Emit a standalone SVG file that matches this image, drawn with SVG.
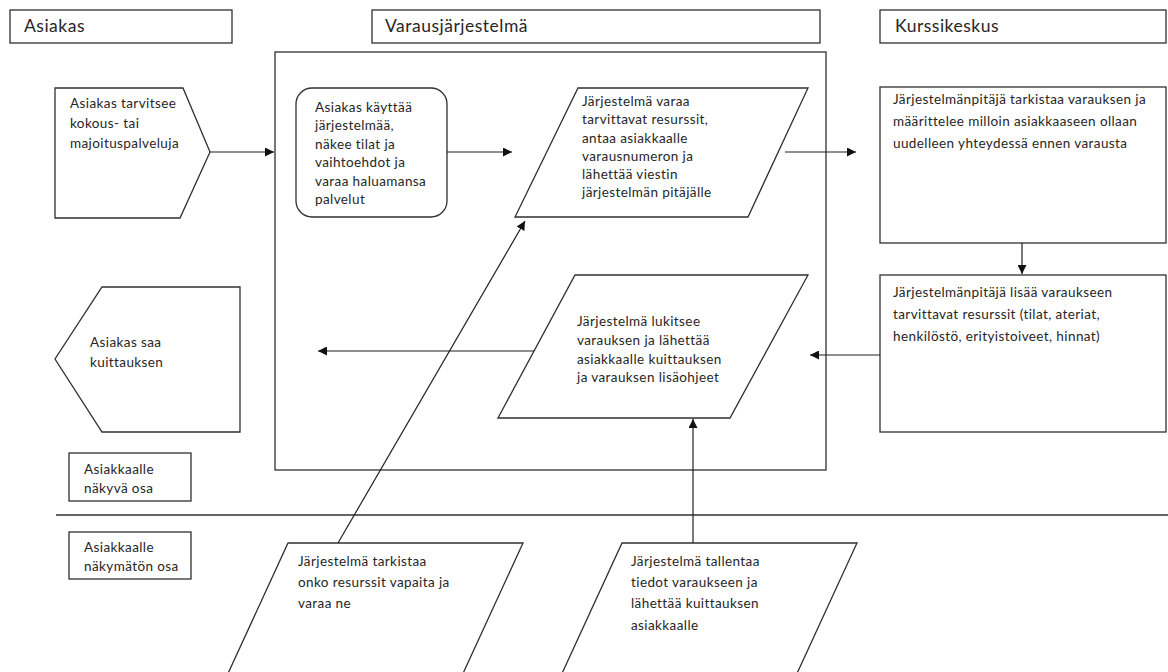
<svg xmlns="http://www.w3.org/2000/svg" width="1168" height="672" viewBox="0 0 1168 672">
  <style>
    .shape { fill: #ffffff; stroke: #303030; stroke-width: 1.3; }
    .frame { fill: none; stroke: #303030; stroke-width: 1.3; }
    .conn { fill: none; stroke: #202020; stroke-width: 1.2; }
    .t { font-family: Lato, "Liberation Sans", sans-serif; font-size: 13.5px; letter-spacing: 0.4px; fill: #262626; }
    .h { font-family: Lato, "Liberation Sans", sans-serif; font-size: 17.5px; letter-spacing: 0.5px; fill: #262626; }
  </style>
  <defs>
    <marker id="arrow" viewBox="0 0 10 10" refX="10" refY="5" markerWidth="9" markerHeight="9" markerUnits="userSpaceOnUse" orient="auto">
      <path d="M0,0 L10,5 L0,10 z" fill="#111111"/>
    </marker>
  </defs>
  <rect width="1168" height="672" fill="#ffffff"/>

  <!-- swimlane headers -->
  <g id="header-asiakas">
    <rect class="shape" x="10" y="10" width="222" height="33"/>
    <text class="h" x="24" y="32">Asiakas</text>
  </g>
  <g id="header-varaus">
    <rect class="shape" x="372" y="10" width="448" height="33"/>
    <text class="h" x="385" y="32">Varausjärjestelmä</text>
  </g>
  <g id="header-kurssi">
    <rect class="shape" x="880" y="10" width="286" height="33"/>
    <text class="h" x="895" y="32">Kurssikeskus</text>
  </g>

  <!-- system boundary and visibility line -->
  <g id="system-frame">
    <rect class="frame" x="275" y="52" width="551" height="418"/>
  </g>
  <g id="visibility-line">
    <line class="frame" x1="56" y1="515" x2="1168" y2="515"/>
  </g>

  <!-- customer lane -->
  <g id="n-tarvitsee">
    <polygon class="shape" points="55,88 183,88 210,152 180,218 55,218"/>
    <text class="t"><tspan x="70" y="108">Asiakas tarvitsee</tspan><tspan x="70" y="128">kokous- tai</tspan><tspan x="70" y="148">majoituspalveluja</tspan></text>
  </g>
  <g id="n-kuittaus">
    <polygon class="shape" points="102,287 240,287 240,432 102,432 55,359"/>
    <text class="t"><tspan x="90" y="347">Asiakas saa</tspan><tspan x="90" y="367">kuittauksen</tspan></text>
  </g>
  <g id="n-nakyva">
    <rect class="shape" x="69" y="453" width="122" height="48"/>
    <text class="t"><tspan x="84" y="474">Asiakkaalle</tspan><tspan x="84" y="493">näkyvä osa</tspan></text>
  </g>
  <g id="n-nakymaton">
    <rect class="shape" x="69" y="532" width="122" height="47"/>
    <text class="t"><tspan x="84" y="552">Asiakkaalle</tspan><tspan x="84" y="571">näkymätön osa</tspan></text>
  </g>

  <!-- reservation system -->
  <g id="n-kayttaa">
    <rect class="shape" x="296" y="88" width="151" height="129" rx="16" ry="16"/>
    <text class="t"><tspan x="315" y="112">Asiakas käyttää</tspan><tspan x="315" y="130">järjestelmää,</tspan><tspan x="315" y="149">näkee tilat ja</tspan><tspan x="315" y="167">vaihtoehdot ja</tspan><tspan x="315" y="186">varaa haluamansa</tspan><tspan x="315" y="204">palvelut</tspan></text>
  </g>
  <g id="n-varaa">
    <polygon class="shape" points="578,88 808,88 748,217 515,217"/>
    <text class="t"><tspan x="582" y="106">Järjestelmä varaa</tspan><tspan x="582" y="124">tarvittavat resurssit,</tspan><tspan x="582" y="143">antaa asiakkaalle</tspan><tspan x="582" y="161">varausnumeron ja</tspan><tspan x="582" y="179">lähettää viestin</tspan><tspan x="582" y="197">järjestelmän pitäjälle</tspan></text>
  </g>
  <g id="n-lukitsee">
    <polygon class="shape" points="575,275 808,275 730,418 498,418"/>
    <text class="t"><tspan x="577" y="326">Järjestelmä lukitsee</tspan><tspan x="577" y="345">varauksen ja lähettää</tspan><tspan x="577" y="364">asiakkaalle kuittauksen</tspan><tspan x="577" y="382">ja varauksen lisäohjeet</tspan></text>
  </g>
  <g id="n-tarkistaa">
    <polygon class="shape" points="288,543 523,543 460,680 225,680"/>
    <text class="t"><tspan x="298" y="566">Järjestelmä tarkistaa</tspan><tspan x="298" y="587">onko resurssit vapaita ja</tspan><tspan x="298" y="608">varaa ne</tspan></text>
  </g>
  <g id="n-tallentaa">
    <polygon class="shape" points="622,543 857,543 794,680 559,680"/>
    <text class="t"><tspan x="631" y="566">Järjestelmä tallentaa</tspan><tspan x="631" y="587">tiedot varaukseen ja</tspan><tspan x="631" y="608">lähettää kuittauksen</tspan><tspan x="631" y="630">asiakkaalle</tspan></text>
  </g>

  <!-- course centre -->
  <g id="n-tarkistaa-varauksen">
    <rect class="shape" x="880" y="87" width="286" height="156"/>
    <text class="t"><tspan x="893" y="104">Järjestelmänpitäjä tarkistaa varauksen ja</tspan><tspan x="893" y="126">määrittelee milloin asiakkaaseen ollaan</tspan><tspan x="893" y="148">uudelleen yhteydessä ennen varausta</tspan></text>
  </g>
  <g id="n-lisaa">
    <rect class="shape" x="880" y="275" width="286" height="157"/>
    <text class="t"><tspan x="893" y="297">Järjestelmänpitäjä lisää varaukseen</tspan><tspan x="893" y="319">tarvittavat resurssit (tilat, ateriat,</tspan><tspan x="893" y="341">henkilöstö, erityistoiveet, hinnat)</tspan></text>
  </g>

  <!-- connectors -->
  <g id="connectors">
    <line class="conn" x1="210" y1="152" x2="274" y2="152" marker-end="url(#arrow)"/>
    <line class="conn" x1="447" y1="152" x2="512" y2="152" marker-end="url(#arrow)"/>
    <line class="conn" x1="785" y1="152" x2="856" y2="152" marker-end="url(#arrow)"/>
    <line class="conn" x1="1022" y1="243" x2="1022" y2="274" marker-end="url(#arrow)"/>
    <line class="conn" x1="880" y1="355" x2="810" y2="355" marker-end="url(#arrow)"/>
    <line class="conn" x1="534" y1="351" x2="318" y2="351" marker-end="url(#arrow)"/>
    <line class="conn" x1="693" y1="543" x2="693" y2="419" marker-end="url(#arrow)"/>
    <line class="conn" x1="338" y1="543" x2="525" y2="221" marker-end="url(#arrow)"/>
  </g>
</svg>
